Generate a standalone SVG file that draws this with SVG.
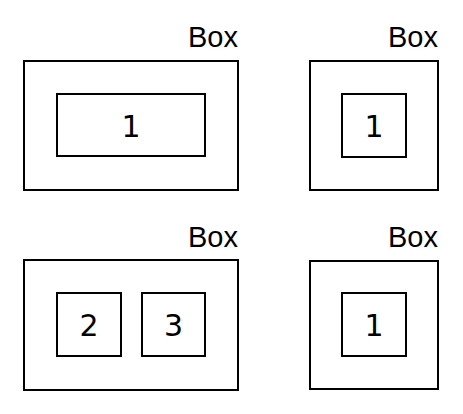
<svg xmlns="http://www.w3.org/2000/svg" width="463" height="414" viewBox="0 0 463 414">
<style>
rect{fill:#fff;stroke:#000;stroke-width:2}
.lbl{font-family:"Liberation Sans",Arial,sans-serif;font-size:29px;text-anchor:end;fill:#000}
.num{font-family:"DejaVu Sans",sans-serif;font-size:30px;text-anchor:middle;fill:#000}
</style>
<rect width="463" height="414" fill="#fff" stroke="none" style="stroke:none"/>
<g id="box-a">
<text class="lbl" x="238" y="47">Box</text>
<rect x="24" y="61" width="214" height="129"/>
<g id="box-a-1"><rect x="57" y="94" width="148" height="62"/><text class="num" x="131" y="137">1</text></g>
</g>
<g id="box-b">
<text class="lbl" x="438" y="47">Box</text>
<rect x="310" y="61" width="128" height="129"/>
<g id="box-b-1"><rect x="342" y="94" width="64" height="63"/><text class="num" x="374" y="137">1</text></g>
</g>
<g id="box-c">
<text class="lbl" x="238" y="247">Box</text>
<rect x="24" y="260" width="214" height="130"/>
<g id="box-c-2"><rect x="57" y="293" width="64" height="63"/><text class="num" x="89" y="336">2</text></g>
<g id="box-c-3"><rect x="142" y="293" width="63" height="63"/><text class="num" x="173.5" y="336">3</text></g>
</g>
<g id="box-d">
<text class="lbl" x="438" y="247">Box</text>
<rect x="310" y="261" width="128" height="128"/>
<g id="box-d-1"><rect x="342" y="293" width="64" height="63"/><text class="num" x="374" y="336">1</text></g>
</g>
<g id="connectors"/>
</svg>
